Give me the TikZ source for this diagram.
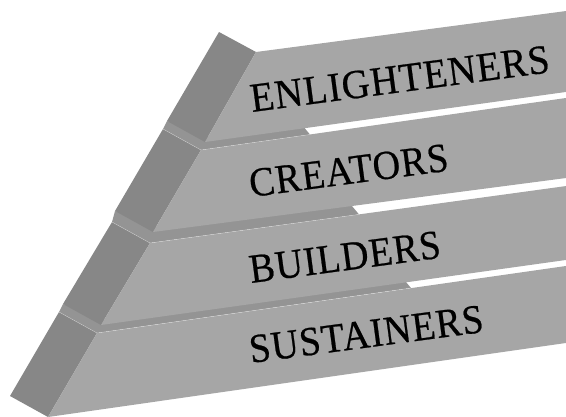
\documentclass[tikz,border=0pt]{standalone}
\usepackage{fontspec}
\setmainfont{Liberation Serif}[LetterSpace=2.5,FakeBold=0.6]
\definecolor{sidecol}{gray}{0.53}
\definecolor{facecol}{gray}{0.65}
\definecolor{ledgecol}{gray}{0.58}
\begin{document}
\begin{tikzpicture}[x=1pt,y=-1pt,
  side/.style={fill=sidecol},
  face/.style={fill=facecol},
  ledge/.style={fill=ledgecol},
  edgehl/.style={draw=white,draw opacity=0.45,line width=0.4pt},
  lbl/.style={anchor=base west,font=\fontsize{38}{40}\selectfont,inner sep=0pt,rotate=7.6,yscale=1.08}]
\useasboundingbox (0,0) rectangle (566,416);
\clip (0,0) rectangle (566,416);
% slab 4 (SUSTAINERS)
\fill[ledge] (59,312) -- (97,333) -- (411,288) -- (401,276) -- (101,320) -- (63,304) -- cycle;
\fill[side] (59,312) -- (97,333) -- (48,417) -- (10,396) -- cycle;
\fill[face] (97,333) -- (570,265.4) -- (570,342.4) -- (48,417) -- cycle;
\draw[edgehl] (59,312) -- (97,333) -- (411,288);
% slab 3 (BUILDERS)
\fill[ledge] (112,222) -- (150,243) -- (359,214.4) -- (349,202.4) -- (153,227) -- (115,211) -- cycle;
\fill[side] (112,222) -- (150,243) -- (101,325) -- (63,304) -- cycle;
\fill[face] (150,243) -- (570,185.5) -- (570,259.4) -- (101,325) -- cycle;
\draw[edgehl] (112,222) -- (150,243) -- (359,214.4);
% slab 2 (CREATORS)
\fill[ledge] (163,129) -- (201,150) -- (310,134.5) -- (300,122.5) -- (205,137) -- (167,121) -- cycle;
\fill[side] (163,129) -- (201,150) -- (153,232) -- (115,211) -- cycle;
\fill[face] (201,150) -- (570,97.4) -- (570,177.5) -- (153,232) -- cycle;
\draw[edgehl] (163,129) -- (201,150) -- (310,134.5);
% slab 1 (ENLIGHTENERS)
\fill[side] (219,32) -- (256,52) -- (205,142) -- (167,121) -- cycle;
\fill[face] (256,52) -- (570,10.5) -- (570,91.4) -- (205,142) -- cycle;
% labels
\node[lbl,xscale=1.02] (enl) at (252,112) {ENLIGHTENERS};
\node[lbl] (cre) at (251,197) {CREATORS};
\node[lbl] (bui) at (251,283) {BUILDERS};
\node[lbl] (sus) at (251,363) {SUSTAINERS};
\end{tikzpicture}
\end{document}
